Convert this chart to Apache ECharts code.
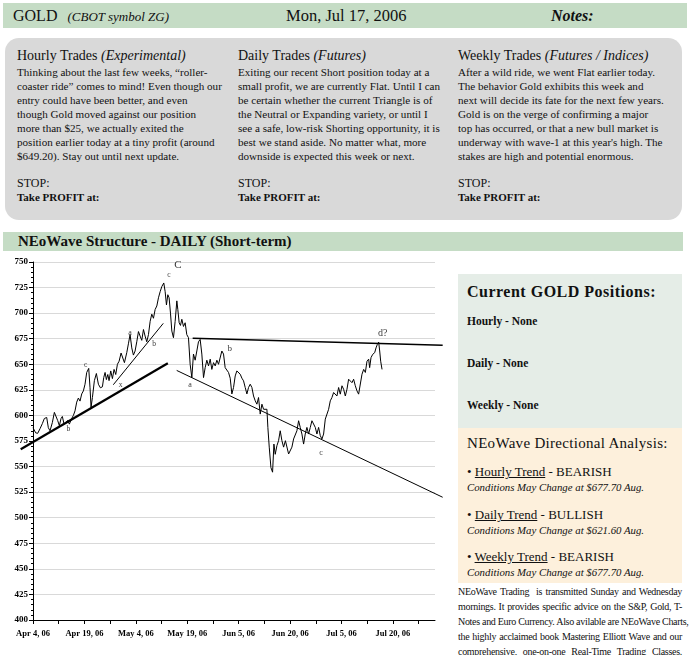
<!DOCTYPE html>
<html><head><meta charset="utf-8">
<script src="https://cdn.jsdelivr.net/npm/echarts@6/dist/echarts.min.js"></script>
<style>
html,body{margin:0;padding:0;background:#fff;}
body{width:690px;height:655px;position:relative;overflow:hidden;font-family:"Liberation Serif","DejaVu Serif",serif;color:#111;}
.abs{position:absolute;white-space:nowrap;}
.bar{position:absolute;background:#c5dcc5;}
.body{font-size:11.1px;line-height:14px;}
.ttl{font-size:14px;}
.it{font-style:italic;}
.ft div{text-align:justify;text-align-last:justify;}
</style></head>
<body>
<div class="bar" style="left:3px;top:3px;width:684px;height:25px;"></div>
<div class="abs" style="left:13px;top:4px;line-height:24px;font-size:16px;">GOLD <span class="it" style="font-size:13px;margin-left:6px;">(CBOT symbol ZG)</span></div>
<div class="abs" style="left:286px;top:4px;line-height:24px;font-size:16.5px;">Mon, Jul 17, 2006</div>
<div class="abs" style="left:551px;top:4px;line-height:24px;font-size:16px;font-style:italic;font-weight:bold;">Notes:</div>

<div style="position:absolute;left:5px;top:38px;width:677px;height:182px;background:#d9d9d9;border-radius:14px;"></div>

<div class="abs ttl" style="left:17px;top:48px;">Hourly Trades <span class="it">(Experimental)</span></div>
<div class="abs body" style="left:17px;top:65px;">Thinking about the last few weeks, “roller-<br>coaster ride” comes to mind! Even though our<br>entry could have been better, and even<br>though Gold moved against our position<br>more than $25, we actually exited the<br>position earlier today at a tiny profit (around<br>$649.20). Stay out until next update.</div>
<div class="abs" style="left:17px;top:176px;font-size:12px;line-height:14px;">STOP:<br><span style="font-size:11px;font-weight:bold;">Take PROFIT at:</span></div>

<div class="abs ttl" style="left:238px;top:48px;">Daily Trades <span class="it">(Futures)</span></div>
<div class="abs body" style="left:238px;top:65px;">Exiting our recent Short position today at a<br>small profit, we are currently Flat. Until I can<br>be certain whether the current Triangle is of<br>the Neutral or Expanding variety, or until I<br>see a safe, low-risk Shorting opportunity, it is<br>best we stand aside. No matter what, more<br>downside is expected this week or next.</div>
<div class="abs" style="left:238px;top:176px;font-size:12px;line-height:14px;">STOP:<br><span style="font-size:11px;font-weight:bold;">Take PROFIT at:</span></div>

<div class="abs ttl" style="left:458px;top:48px;">Weekly Trades <span class="it">(Futures / Indices)</span></div>
<div class="abs body" style="left:458px;top:65px;">After a wild ride, we went Flat earlier today.<br>The behavior Gold exhibits this week and<br>next will decide its fate for the next few years.<br>Gold is on the verge of confirming a major<br>top has occurred, or that a new bull market is<br>underway with wave-1 at this year's high. The<br>stakes are high and potential enormous.</div>
<div class="abs" style="left:458px;top:176px;font-size:12px;line-height:14px;">STOP:<br><span style="font-size:11px;font-weight:bold;">Take PROFIT at:</span></div>

<div class="bar" style="left:3px;top:232px;width:680px;height:19px;"></div>
<div class="abs" style="left:18px;top:232px;line-height:19px;font-size:15px;font-weight:bold;">NEoWave Structure - DAILY (Short-term)</div>

<div id="chart" style="position:absolute;left:0;top:252px;width:455px;height:403px;"></div>

<div style="position:absolute;left:458px;top:274px;width:224px;height:154px;background:#e5ede7;"></div>
<div class="abs" style="left:467px;top:283px;font-size:16px;letter-spacing:0.5px;font-weight:bold;line-height:18px;">Current GOLD Positions:</div>
<div class="abs" style="left:467px;top:314px;font-size:11.5px;font-weight:bold;line-height:15px;">Hourly - None</div>
<div class="abs" style="left:467px;top:356px;font-size:11.5px;font-weight:bold;line-height:15px;">Daily - None</div>
<div class="abs" style="left:467px;top:398px;font-size:11.5px;font-weight:bold;line-height:15px;">Weekly - None</div>

<div style="position:absolute;left:458px;top:428px;width:224px;height:155px;background:#fdf0dc;"></div>
<div class="abs" style="left:467px;top:434px;font-size:15px;letter-spacing:0.3px;line-height:18px;">NEoWave Directional Analysis:</div>
<div class="abs" style="left:467px;top:464px;font-size:13px;line-height:15px;">• <u>Hourly Trend</u> - BEARISH<br><span class="it" style="font-size:10.8px;">Conditions May Change at $677.70 Aug.</span></div>
<div class="abs" style="left:467px;top:507px;font-size:13px;line-height:15px;">• <u>Daily Trend</u> - BULLISH<br><span class="it" style="font-size:10.8px;">Conditions May Change at $621.60 Aug.</span></div>
<div class="abs" style="left:467px;top:549px;font-size:13px;line-height:15px;">• <u>Weekly Trend</u> - BEARISH<br><span class="it" style="font-size:10.8px;">Conditions May Change at $677.70 Aug.</span></div>

<div class="ft" style="position:absolute;left:458px;top:584px;width:224px;font-size:10px;letter-spacing:-0.3px;line-height:15px;white-space:nowrap;">
<div>NEoWave Trading &nbsp;is transmitted Sunday and Wednesday</div>
<div>mornings. It provides specific advice on the S&amp;P, Gold, T-</div>
<div>Notes and Euro Currency. Also avilable are NEoWave Charts,</div>
<div>the highly acclaimed book Mastering Elliott Wave and our</div>
<div>comprehensive, one-on-one Real-Time Trading Classes.</div>
</div>

<script>
// ---- data ----
const dateLabels = ['Apr 4, 06','Apr 19, 06','May 4, 06','May 19, 06','Jun 5, 06','Jun 20, 06','Jul 5, 06','Jul 20, 06'];
const yTicks = [400,425,450,475,500,525,550,575,600,625,650,675,700,725,750];
// trading-day index (0 = Apr 4, 06) and price
const priceX = [0,0.57,1.0,1.5,2.0,2.43,2.93,3.28,3.64,4.14,4.57,4.92,5.28,5.64,6.0,6.28,6.64,6.99,7.42,7.78,8.28,8.64,8.99,9.35,9.71,10.06,10.42,10.78,11.13,11.49,11.92,12.2,12.42,12.71,13.13,13.56,13.99,14.42,14.85,15.13,15.42,15.7,16.0,16.27,16.63,16.99,17.34,17.7,18.06,18.42,18.84,19.13,19.56,20.06,20.41,20.77,21.13,21.48,21.84,22.2,22.56,22.91,23.27,23.63,23.98,24.34,24.7,25.06,25.41,25.77,26.13,26.49,26.84,27.2,27.56,27.98,28.27,28.55,28.84,29.12,29.41,29.7,30.05,30.41,30.77,30.98,31.27,31.55,31.84,32.19,32.55,32.9,33.26,33.62,33.98,34.33,34.69,35.05,35.4,35.76,36.12,36.48,36.83,37.19,37.55,37.91,38.26,38.62,38.98,39.33,39.69,40.4,40.76,41.11,41.47,41.83,42.19,42.54,42.9,43.26,43.61,43.97,44.33,44.69,45.04,45.4,45.76,46.11,46.47,46.83,47.18,47.54,47.9,48.25,48.61,48.97,49.33,49.68,50.04,50.25,50.54,50.9,51.25,51.54,51.82,52.18,52.53,52.89,53.25,53.61,54.0,54.32,54.68,55.03,55.39,55.75,56.1,56.46,56.82,57.17,57.53,57.89,58.24,58.6,58.96,59.32,59.67,60.03,60.39,60.74,61.1,61.46,61.81,62.17,62.53,62.88,63.24,63.6,63.95,64.31,64.67,65.02,65.38,65.74,66.1,66.45,66.81,67.17,67.52,67.88,68.24,68.59,68.95,69.31,69.66,70.02,70.38,70.74,71.1,71.45,71.81,72.02,72.31,72.67,73.1,73.38,73.67,73.95,74.17,74.38,74.67];
const priceY = [588,583,582.5,587,592,597,598,588,585,593,603,604.5,595,590,597,599,591.5,590,595,591.5,597,600,604.5,613,617,614,621,624,630.5,642,646,627,608,617.5,634,641,630.5,627,628,637,642,635,640,634,643.5,636,645,640,650,653,661,659.7,651.6,661.4,670,679,666,659,663,672,682,677.6,673.4,684,677.6,672,679,692,699,695,703.6,707,715,721,726,729.5,721,708,718,715,700,682.5,676,692,712,703.6,690.6,688,694,687,690.6,679,676,650,637,660,654,663,672,674.3,660,637,646.7,654,648.4,655,645,651.6,648.4,654,650,663,660,646.7,645,642,636.4,621,627.3,638.6,643.5,645,640.3,636.4,633.8,627.3,621,627.3,630.5,627.3,619,614.3,611,617.5,601.3,611,606,604.5,606,588,569,549,544.5,572,562,570.4,575.3,585,575.3,569,575.3,577,562.3,562.3,569,577,575.3,585,594.8,588.3,581.8,572,581.8,588.3,581.8,588.3,594.8,596.4,588.3,581.8,588.3,580.2,577,581.8,596.4,598,606,614.3,617.5,622.4,624,619,627.3,620.8,629,625.6,619,625.6,635.4,637,632,635.4,629,624,620.8,622.4,640.3,645,642,653,655,646.7,656.5,659.7,661.4,666,669.5,671.7,663,653,645];
// trend lines (endpoints in index / price)
const supportX = [-2.63, 28.84], supportY = [567, 651];
const channelX = [17.18, 27.87], channelY = [630, 690];
const declineX = [30.74, 87.64], declineY = [644, 520];
const upperX = [34.16, 87.64], upperY = [675.5, 668.6];
// wave labels
const annText = ['C','c','a','b','b','d?','a','c','c','b','x'];
const annX = [30.99,29.1,20.75,25.9,42.1,74.8,33.6,61.6,11.27,7.55,18.76];
const annY = [747,737,680.5,669.6,665.5,680.4,630,563.8,648.8,586.6,630];
const annSize = [11,7.5,8,7.5,9,10,8,8,7.5,7.5,7.5];

const zip = (xs, ys) => xs.map((x, i) => [x, ys[i]]);
const serif = 'Liberation Serif';
const chart = echarts.init(document.getElementById('chart'));
// main grid: x 0..86 over 402px; overlay grid uses same scale but wider range (-3..88) so trend lines can run past the axes
const pxPerDay = 402 / 86;
const ovMin = -3, ovMax = 88;
const ovLeft = 33 + ovMin * pxPerDay;
const ovRight = 455 - (33 + ovMax * pxPerDay);
const lineS = (xs, ys, w) => ({type:'line', xAxisIndex:1, yAxisIndex:1, data: zip(xs, ys), showSymbol:false,
  lineStyle:{color:'#000', width:w}, silent:true});
chart.setOption({
  animation:false,
  grid:[{left:33, right:20, top:10, bottom:35}, {left:ovLeft, right:ovRight, top:10, bottom:35}],
  xAxis:[{type:'value', gridIndex:0, min:0, max:86, interval:5.5,
    axisLine:{lineStyle:{color:'#000', width:1}},
    axisTick:{show:true, length:4, lineStyle:{color:'#000'}},
    splitLine:{show:false},
    axisLabel:{fontFamily:serif, fontWeight:'bold', fontSize:8.5, color:'#000', margin:9,
      showMaxLabel:false,
      formatter:(v)=>{const k=v/11; const r=Math.round(k); return (Math.abs(k-r)<1e-6 && r<dateLabels.length)?dateLabels[r]:'';}}},
    {type:'value', gridIndex:1, min:ovMin, max:ovMax, show:false}],
  yAxis:[{type:'value', gridIndex:0, min:yTicks[0], max:yTicks[yTicks.length-1], interval:25,
    axisLine:{show:true, lineStyle:{color:'#000', width:1}},
    axisTick:{show:true, length:4, lineStyle:{color:'#000'}},
    minorTick:{show:true, splitNumber:5, length:2, lineStyle:{color:'#000'}},
    splitLine:{show:true, lineStyle:{color:'#d9d9d9', width:1}},
    axisLabel:{fontFamily:serif, fontWeight:'bold', fontSize:9, color:'#000', margin:5}},
    {type:'value', gridIndex:1, min:yTicks[0], max:yTicks[yTicks.length-1], show:false}],
  series:[
    {type:'line', data: zip(priceX, priceY), showSymbol:false, lineStyle:{color:'#000', width:1}, silent:true},
    lineS(supportX, supportY, 2.2),
    lineS(channelX, channelY, 1),
    lineS(declineX, declineY, 1),
    lineS(upperX, upperY, 1.4),
    {type:'scatter', silent:true, symbolSize:1, itemStyle:{color:'rgba(0,0,0,0)'},
      data: annText.map((t,i)=>({value:[annX[i], annY[i]], label:{show:true, formatter:t, position:'inside',
        fontFamily:serif, fontSize:annSize[i], color:'#000'}}))}
  ]
});
</script>
</body></html>
